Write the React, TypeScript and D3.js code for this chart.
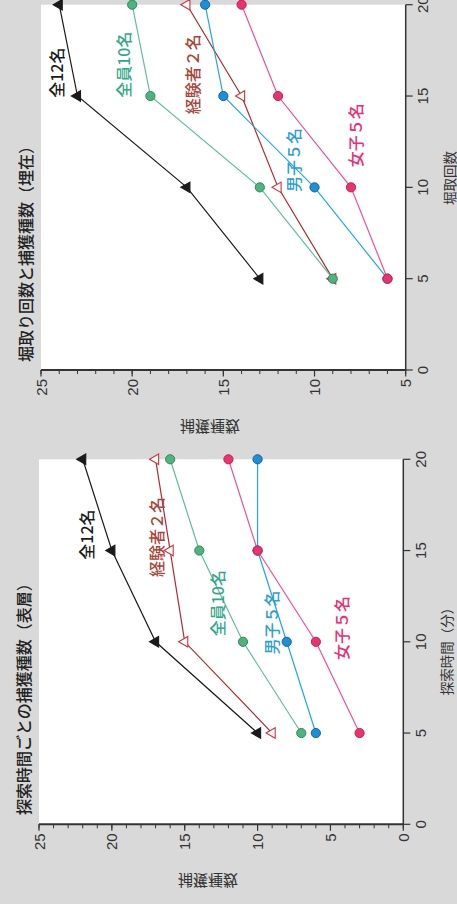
import React from "react";
import * as d3 from "d3";

// ---- data ----
const xValues = [5, 10, 15, 20];
const seriesNames = ["全12名", "経験者２名", "全員10名", "男子５名", "女子５名"];

// 探索時間ごとの捕獲種数（表層）
const surfaceAll12 = [10, 17, 20, 22];
const surfaceExperienced = [9, 15, 16, 17];
const surfaceAll10 = [7, 11, 14, 16];
const surfaceBoys = [6, 8, 10, 10];
const surfaceGirls = [3, 6, 10, 12];

// 堀取り回数と捕獲種数（埋在）
const buriedAll12 = [13, 17, 23, 24];
const buriedExperienced = [9, 12, 14, 17];
const buriedAll10 = [9, 13, 19, 20];
const buriedBoys = [6, 10, 15, 16];
const buriedGirls = [6, 8, 12, 14];

const xDomain = [0, 20];
const surfaceYDomain = [0, 25];
const buriedYDomain = [5, 25];

// ---- styles ----
const styles = [
  { line: "#1a1a1a", fill: "#1a1a1a", stroke: "#1a1a1a", marker: "tri", label: "#1a1a1a" },
  { line: "#b02a32", fill: "#ffffff", stroke: "#d0323f", marker: "tri", label: "#a8463a" },
  { line: "#5cc099", fill: "#4fb380", stroke: "#2f8a5a", marker: "circle", label: "#35a88a" },
  { line: "#1fa8e0", fill: "#1b8fd8", stroke: "#1a5fa8", marker: "circle", label: "#2e9fd4" },
  { line: "#ee4f9c", fill: "#e8336e", stroke: "#c42058", marker: "circle", label: "#e8317a" },
];

const panels = [
  {
    x0: 79.7, x1: 444.7, y0: 39, y1: 403.3,
    yDomain: surfaceYDomain,
    title: "探索時間ごとの捕獲種数（表層）", titleX: 89,
    xLabel: "探索時間（分）", xLabelX: 256,
    values: [surfaceAll12, surfaceExperienced, surfaceAll10, surfaceBoys, surfaceGirls],
    labelPos: [[14.5, 21.8], [13.55, 17.0], [10.3, 12.8], [9.3, 9.1], [9.0, 4.3]],
  },
  {
    x0: 534, x1: 899.3, y0: 41, y1: 405.7,
    yDomain: buriedYDomain,
    title: "堀取り回数と捕獲種数（埋在）", titleX: 542,
    xLabel: "堀取回数", xLabelX: 726,
    values: [buriedAll12, buriedExperienced, buriedAll10, buriedBoys, buriedGirls],
    labelPos: [[14.9, 24.2], [14.0, 16.7], [14.9, 20.5], [9.75, 11.2], [11.1, 7.8]],
  },
];

const JP = "'Noto Sans CJK JP', 'Noto Sans', sans-serif";
const NUM = "'Liberation Sans', Arial, sans-serif";
const AXIS = "#333";

function Panel({ p }: { p: any }) {
  const x = d3.scaleLinear().domain(xDomain).range([p.x0, p.x1]);
  const y = d3.scaleLinear().domain(p.yDomain).range([p.y1, p.y0]);
  const line = d3.line<[number, number]>().x((d) => x(d[0])).y((d) => y(d[1]));
  const tri = d3.symbol().type(d3.symbolTriangle).size(48)();
  const xTicks = x.ticks(4);
  const yTicks = y.ticks(5);
  const yMinor = d3.range(p.yDomain[0], p.yDomain[1] + 1);
  return (
    <g>
      <rect x={p.x0} y={p.y0} width={p.x1 - p.x0} height={p.y1 - p.y0} fill="#fff" />
      <text x={p.titleX} y={p.y0 - 16} fontFamily={JP} fontSize={16} fontWeight={500} fill="#222" dominantBaseline="central">
        {p.title}
      </text>
      {/* series */}
      {p.values.map((vals: number[], i: number) => {
        const st = styles[i];
        const pts: [number, number][] = xValues.map((xv, j) => [xv, vals[j]]);
        return (
          <g key={i}>
            <path d={line(pts) || ""} fill="none" stroke={st.line} strokeWidth={1.2} />
            {pts.map((d, j) =>
              st.marker === "tri" ? (
                <path key={j} d={tri || ""} transform={`translate(${x(d[0])},${y(d[1])})`}
                  fill={st.fill} stroke={st.stroke} strokeWidth={1.1} />
              ) : (
                <circle key={j} cx={x(d[0])} cy={y(d[1])} r={4.6} fill={st.fill} stroke={st.stroke} strokeWidth={1} />
              )
            )}
          </g>
        );
      })}
      {/* series labels */}
      {seriesNames.map((name, i) => (
        <text key={name} x={x(p.labelPos[i][0])} y={y(p.labelPos[i][1])} fontFamily={JP} fontSize={16}
          fontWeight={500} fill={styles[i].label} dominantBaseline="central">
          {name}
        </text>
      ))}
      {/* value axis */}
      <line x1={p.x0} x2={p.x0} y1={p.y0} y2={p.y1} stroke={AXIS} strokeWidth={2} />
      {yMinor.map((v: number) => (
        <line key={"m" + v} x1={p.x0 - 4} x2={p.x0} y1={y(v)} y2={y(v)} stroke={AXIS} strokeWidth={1} />
      ))}
      {yTicks.map((v: number) => (
        <g key={"t" + v}>
          <line x1={p.x0 - 6.5} x2={p.x0} y1={y(v)} y2={y(v)} stroke={AXIS} strokeWidth={1.2} />
          <text x={p.x0 - 9} y={y(v)} textAnchor="end" dominantBaseline="central" fontFamily={NUM} fontSize={15} fill="#333">
            {v}
          </text>
        </g>
      ))}
      {/* x axis */}
      <line x1={p.x0} x2={p.x1} y1={p.y1} y2={p.y1} stroke={AXIS} strokeWidth={1.5} />
      {xTicks.map((v: number) => (
        <g key={"x" + v}>
          <line x1={x(v)} x2={x(v)} y1={p.y1} y2={p.y1 + 7} stroke={AXIS} strokeWidth={1.2} />
          <text x={x(v)} y={p.y1 + 22.5} textAnchor="middle" fontFamily={NUM} fontSize={15} fill="#333">
            {v}
          </text>
        </g>
      ))}
      <text x={p.xLabelX} y={p.y1 + 43} textAnchor="middle" dominantBaseline="central" fontFamily={JP} fontSize={13.5} fill="#333">
        {p.xLabel}
      </text>
    </g>
  );
}

export default function App() {
  const yLabel = "捕獲種数";
  const yLabelPos = [
    [210, 427],
    [208, 881],
  ];
  return (
    <svg width={457} height={904} style={{ position: "absolute", left: 0, top: 0 }}>
      <rect x={0} y={0} width={457} height={904} fill="#d9d9d9" />
      <g transform="translate(0,904) rotate(-90)">
        {panels.map((p, i) => (
          <Panel key={i} p={p} />
        ))}
      </g>
      {yLabelPos.map((pos, i) => (
        <text key={i} transform={`translate(${pos[0]},${pos[1]}) scale(1,-1)`} textAnchor="middle"
          dominantBaseline="central" fontFamily={JP} fontSize={15} fill="#333">
          {yLabel}
        </text>
      ))}
    </svg>
  );
}
